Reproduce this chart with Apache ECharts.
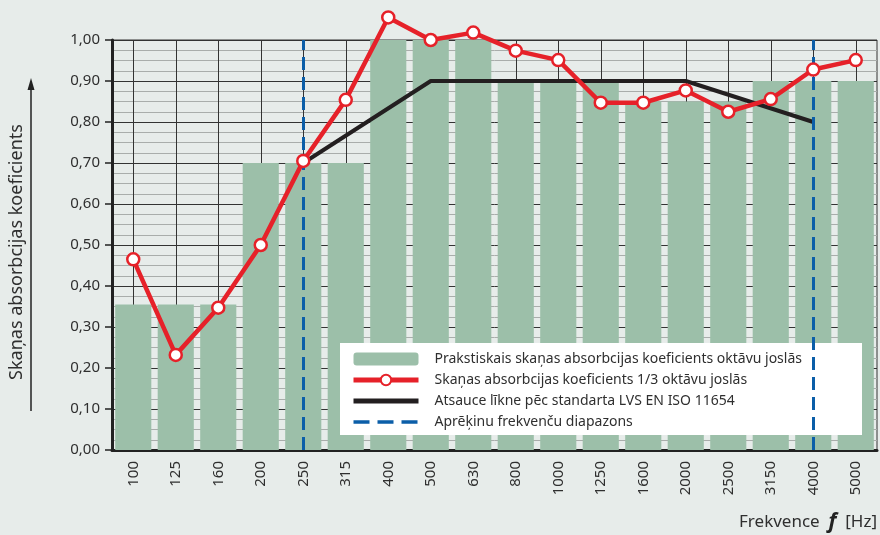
<!DOCTYPE html>
<html>
<head>
<meta charset="utf-8">
<script src="https://cdn.jsdelivr.net/npm/echarts@6/dist/echarts.min.js"></script>
<style>
  html, body { margin: 0; padding: 0; background: #e7ecea; }
  #chart { width: 880px; height: 535px; }
</style>
</head>
<body>
<div id="chart"></div>
<script>
// ── Data ──
const frequencies = ['100', '125', '160', '200', '250', '315', '400', '500', '630',
  '800', '1000', '1250', '1600', '2000', '2500', '3150', '4000', '5000'];

// practical coefficient per octave band, repeated on its three 1/3-octave slots
const octaveBand = [0.355, 0.355, 0.355, 0.70, 0.70, 0.70, 1.00, 1.00, 1.00,
  0.90, 0.90, 0.90, 0.85, 0.85, 0.85, 0.90, 0.90, 0.90];

// measured coefficient in 1/3-octave bands
const thirdOctave = [0.465, 0.232, 0.347, 0.50, 0.705, 0.854, 1.055, 1.00, 1.018,
  0.974, 0.951, 0.847, 0.847, 0.877, 0.825, 0.856, 0.928, 0.951];

// shifted reference curve (LVS EN ISO 11654), only at octave centres
const referenceCurve = [null, null, null, null, 0.70, null, null, 0.90, null,
  null, 0.90, null, null, 0.90, null, null, 0.80, null];

// calculation frequency range
const rangeLimits = ['250', '4000'];

const seriesNames = [
  'Prakstiskais skaņas absorbcijas koeficients oktāvu joslās',
  'Skaņas absorbcijas koeficients 1/3 oktāvu joslās',
  'Atsauce līkne pēc standarta LVS EN ISO 11654',
  'Aprēķinu frekvenču diapazons',
];

const FONT = '"Noto Sans", sans-serif';
const TEXT = '#2f2f2f';
const GREEN = '#9cbfa9';
const RED = '#e62129';
const BLACK = '#231f20';
const BLUE = '#0b5ea8';

const chart = echarts.init(document.getElementById('chart'));

chart.setOption({
  backgroundColor: '#e7ecea',
  animation: false,
  textStyle: { fontFamily: FONT },
  grid: {
    left: 112, right: 3, top: 40, bottom: 85,
    show: true, borderColor: '#333', borderWidth: 1,
  },
  legend: {
    orient: 'vertical',
    left: 340, top: 343,
    backgroundColor: '#fff',
    padding: [9, 60, 6, 11],
    itemWidth: 65, itemHeight: 13, itemGap: 7,
    textStyle: { fontSize: 14, color: TEXT, fontFamily: FONT, padding: [0, 0, 0, 11] },
    data: [
      { name: seriesNames[0] },
      { name: seriesNames[1], lineStyle: { width: 5 } },
      { name: seriesNames[2], lineStyle: { width: 5 }, itemStyle: { opacity: 0 } },
      { name: seriesNames[3], lineStyle: { width: 3.5, type: [16, 8] }, itemStyle: { opacity: 0 } },
    ],
  },
  xAxis: {
    type: 'category',
    data: frequencies,
    boundaryGap: true,
    axisLine: { lineStyle: { color: '#222', width: 3 } },
    axisTick: { alignWithLabel: true, length: 7, lineStyle: { color: '#222', width: 1.5 } },
    axisLabel: { rotate: 90, fontSize: 15, margin: 11, color: TEXT },
    splitLine: { show: true, alignWithLabel: true, lineStyle: { color: '#333', width: 1 } },
  },
  yAxis: {
    type: 'value',
    min: 0, max: 1, interval: 0.1,
    axisLine: { show: true, lineStyle: { color: '#222', width: 3 } },
    axisTick: { show: true, length: 7, lineStyle: { color: '#222', width: 1.5 } },
    axisLabel: {
      fontSize: 15, margin: 12, color: TEXT,
      formatter: v => v.toFixed(2).replace('.', ','),
    },
    splitLine: { lineStyle: { color: '#333', width: 1 } },
    minorTick: { show: false, splitNumber: 4 },
    minorSplitLine: { show: true, lineStyle: { color: '#a9adab', width: 1 } },
  },
  series: [
    {
      name: seriesNames[0],
      type: 'bar',
      data: octaveBand,
      barWidth: '85%',
      itemStyle: { color: GREEN },
      z: 2,
    },
    {
      name: seriesNames[2],
      type: 'line',
      data: referenceCurve,
      connectNulls: true,
      symbol: 'none',
      lineStyle: { color: BLACK, width: 4, cap: 'butt' },
      itemStyle: { color: BLACK },
      z: 3,
    },
    {
      name: seriesNames[3],
      type: 'line',
      data: frequencies.map(() => null),
      symbol: 'none',
      lineStyle: { color: BLUE, width: 3, type: [13, 7] },
      itemStyle: { color: BLUE },
      markLine: {
        silent: true,
        symbol: ['none', 'none'],
        label: { show: false },
        lineStyle: { color: BLUE, width: 3, type: [13, 7] },
        data: rangeLimits.map(f => ({ xAxis: f })),
      },
      z: 4,
    },
    {
      name: seriesNames[1],
      type: 'line',
      data: thirdOctave,
      clip: false,
      symbol: 'circle',
      symbolSize: 12,
      lineStyle: { color: RED, width: 4.5 },
      itemStyle: { color: '#fff', borderColor: RED, borderWidth: 2.5 },
      z: 5,
    },
  ],
  graphic: [
    // y axis title with arrow
    {
      type: 'text', x: 17, y: 252, rotation: Math.PI / 2,
      style: {
        text: 'Skaņas absorbcijas koeficients',
        font: '18px "Noto Sans", sans-serif', fill: TEXT,
        align: 'center', verticalAlign: 'middle',
      },
    },
    {
      type: 'line', shape: { x1: 31, y1: 411, x2: 31, y2: 86 },
      style: { stroke: '#222', lineWidth: 1.5 },
    },
    {
      type: 'polygon', shape: { points: [[31, 78], [27.5, 90], [34.5, 90]] },
      style: { fill: '#222' },
    },
    // x axis title
    {
      type: 'text', right: 3, top: 512,
      style: {
        text: '{a|Frekvence  }{b|f}{a|  [Hz]}',
        rich: {
          a: { font: '17px "Noto Sans", sans-serif', fill: TEXT },
          b: { font: 'italic bold 21px "Noto Sans", sans-serif', fill: '#222' },
        },
      },
    },
  ],
});
</script>
</body>
</html>
